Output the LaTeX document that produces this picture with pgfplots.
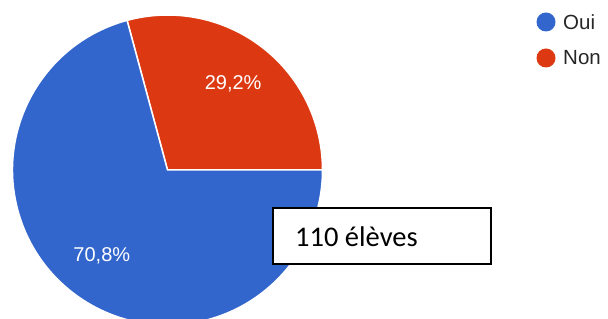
\documentclass[border=0pt]{standalone}
\usepackage{pgfplots}
\usepackage{pgfplotstable}
\pgfplotsset{compat=1.18}
\usetikzlibrary{calc}
\usepackage{fontspec}
\setmainfont{Liberation Sans}
\newfontfamily\calibri{Carlito}
\definecolor{oui}{HTML}{3366CC}
\definecolor{non}{HTML}{DC3912}
\pgfplotstableread{
label value
Oui 70.8
Non 29.2
}\piedata
\pgfplotstablegetelem{0}{value}\of\piedata \let\ouival\pgfplotsretval
\pgfplotstablegetelem{1}{value}\of\piedata \let\nonval\pgfplotsretval
\pgfmathsetmacro\splitang{\nonval*3.6}
\pgfmathsetmacro\nonmid{\splitang/2}
\pgfmathsetmacro\ouimid{(\splitang+360)/2}
\begin{document}
\begin{tikzpicture}
\begin{axis}[
  scale only axis, width=608bp, height=319bp,
  xmin=0, xmax=608, ymin=-319, ymax=0,
  hide axis, clip=true,
  /pgf/number format/assume math mode=true,
]
% Non slice
\filldraw[fill=non, draw=white, line width=1.5bp, line join=round]
  (axis cs:167.5,-170) -- ++(0:155bp) arc[start angle=0, end angle=\splitang, radius=155bp] -- cycle;
% Oui slice
\filldraw[fill=oui, draw=white, line width=1.5bp, line join=round]
  (axis cs:167.5,-170) -- ++(\splitang:155bp) arc[start angle=\splitang, end angle=360, radius=155bp] -- cycle;
% percentage labels
\node[text=white, font=\fontsize{20bp}{24bp}\selectfont] at ($(axis cs:167.5,-170)+(\nonmid:108bp)$) {\pgfmathprintnumber[use comma,fixed,precision=1,fixed zerofill,assume math mode=true]{\nonval}\%};
\node[text=white, font=\fontsize{20bp}{24bp}\selectfont] at ($(axis cs:167.5,-170)+(\ouimid:108bp)$) {\pgfmathprintnumber[use comma,fixed,precision=1,fixed zerofill,assume math mode=true]{\ouival}\%};
% legend
\fill[oui] (axis cs:546,-22) circle[radius=9.5bp];
\node[anchor=west, text=black!85, font=\fontsize{20.5bp}{24bp}\selectfont, inner sep=0pt] at (axis cs:563,-22) {Oui};
\fill[non] (axis cs:546,-58) circle[radius=9.5bp];
\node[anchor=west, text=black!85, font=\fontsize{20.5bp}{24bp}\selectfont, inner sep=0pt] at (axis cs:563,-58) {Non};
% text box
\filldraw[fill=white, draw=black, line width=1.5bp] (axis cs:273,-208) rectangle (axis cs:491,-264);
\node[anchor=base west, inner sep=0pt, font=\calibri\fontsize{28.5bp}{32bp}\selectfont] at (axis cs:295,-247) {110 élèves};
\end{axis}
\pgfresetboundingbox
\useasboundingbox (current axis.south west) rectangle (current axis.north east);
\end{tikzpicture}
\end{document}
